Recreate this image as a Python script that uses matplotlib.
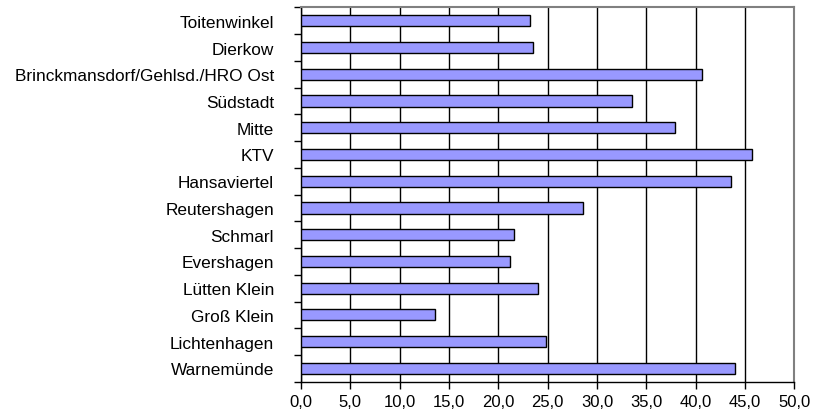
import numpy as np
import matplotlib.pyplot as plt
from matplotlib.ticker import MultipleLocator, FixedLocator, FuncFormatter

# Stadtbereiche von oben nach unten
bereiche = ['Toitenwinkel', 'Dierkow', 'Brinckmansdorf/Gehlsd./HRO Ost',
            'Südstadt', 'Mitte', 'KTV', 'Hansaviertel', 'Reutershagen',
            'Schmarl', 'Evershagen', 'Lütten Klein', 'Groß Klein',
            'Lichtenhagen', 'Warnemünde']
werte = [23.2, 23.5, 40.6, 33.6, 37.9, 45.7, 43.6, 28.6,
         21.6, 21.2, 24.0, 13.6, 24.8, 44.0]

plt.rcParams['font.family'] = ['Liberation Sans', 'DejaVu Sans']

fig = plt.figure(figsize=(8.17, 4.10), dpi=100)
ax = fig.add_axes([0.3684, 0.0666, 0.6038, 0.9127])

n = len(bereiche)
pos = np.arange(n)[::-1]
ax.barh(pos, werte, height=0.42, color='#9999FF', edgecolor='black',
        linewidth=1.0, zorder=3)

ax.set_xlim(0, 50)
ax.set_ylim(-0.5, n - 0.5)
ax.xaxis.set_major_locator(MultipleLocator(5))
ax.xaxis.set_major_formatter(FuncFormatter(lambda v, p: f'{v:.1f}'.replace('.', ',')))
ax.grid(axis='x', color='black', linewidth=1.0, zorder=0)

# Beschriftung mittig, Striche zwischen den Kategorien
ax.set_yticks(pos)
ax.set_yticklabels(bereiche)
ax.tick_params(axis='y', which='major', length=0, pad=19.5, labelsize=12.4)
ax.yaxis.set_minor_locator(FixedLocator(np.arange(n + 1) - 0.5))
ax.tick_params(axis='y', which='minor', length=5, width=1, direction='out')
ax.tick_params(axis='x', length=5, width=1, direction='out', pad=4, labelsize=12)

for s in ['left', 'bottom']:
    ax.spines[s].set_color('black')
    ax.spines[s].set_linewidth(1.0)
for s in ['top', 'right']:
    ax.spines[s].set_color('#808080')
    ax.spines[s].set_linewidth(1.5)

fig.savefig('out.png', dpi=100)
